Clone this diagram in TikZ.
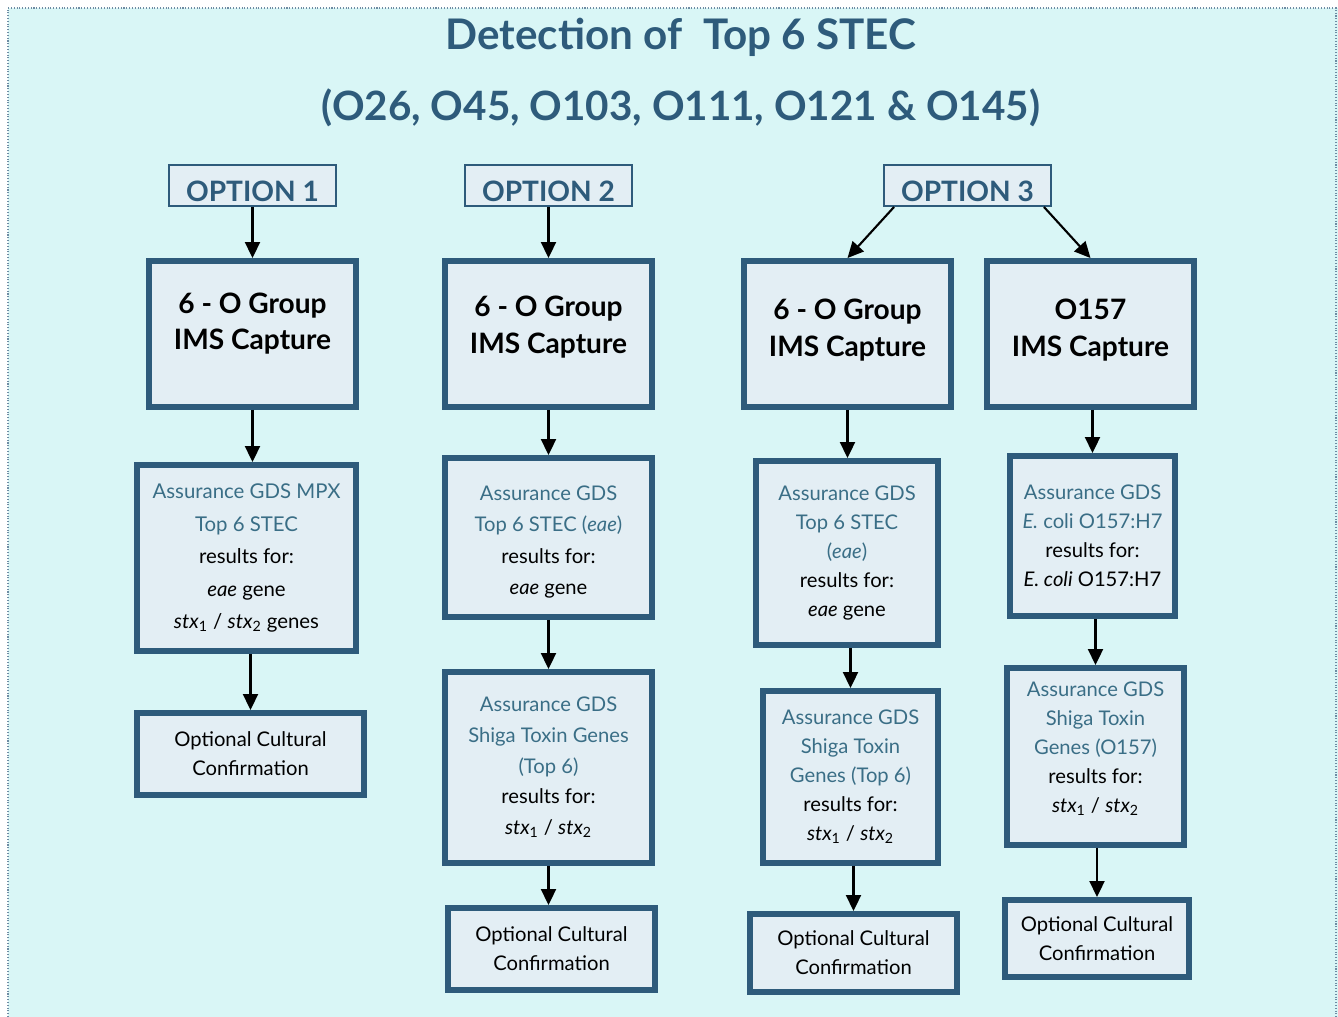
\documentclass[tikz,border=0pt]{standalone}
\usepackage{fontspec}
\setmainfont{Lato}
\usepackage{tikz}
\usetikzlibrary{arrows.meta}

\definecolor{bgcyan}{HTML}{D9F6F6}
\definecolor{boxfill}{HTML}{E3EEF4}
\definecolor{boxline}{HTML}{2E5B7B}
\definecolor{bluetext}{HTML}{3A6E86}

\newcommand{\bt}{\color{bluetext}}
\newcommand{\stxg}[1]{\textit{stx}\textsubscript{#1}}

\tikzset{
  optbox/.style={draw=boxline, line width=1.1pt, fill=boxfill, text=boxline,
    font=\bfseries\fontsize{16}{18}\selectfont, inner sep=0pt,
    text height=18pt, text depth=0pt,
    minimum width=3.34cm, minimum height=0.82cm},
  grpbox/.style={draw=boxline, line width=3.4pt, fill=boxfill, align=center,
    font=\bfseries\fontsize{16}{21}\selectfont,
    minimum width=4.14cm, minimum height=2.92cm},
  resbox/.style={draw=boxline, line width=3.4pt, fill=boxfill, align=center,
    font=\fontsize{11.5}{16.5}\selectfont, inner sep=2pt},
  arr/.style={line width=1.2pt, -{Triangle[length=0.32cm,width=0.3cm]}}
}

\begin{document}
\begin{tikzpicture}[x=0.02cm,y=-0.02cm]
  \useasboundingbox (0,0) rectangle (1338,1017);
  \fill[bgcyan] (8,8) rectangle (1338,1017);
  \draw[boxline!70, densely dotted, line width=0.6pt] (8,1017) -- (8,8) -- (1336,8) -- (1336,1017);

  % title
  \node[text=boxline, font=\bfseries\fontsize{24}{26}\selectfont] (title) at (681,37) {Detection of~ Top 6 STEC};
  \node[text=boxline, font=\bfseries\fontsize{23}{26}\selectfont] (serogr) at (681,108) {(O26, O45, O103, O111, O121 \& O145)};

  % option 1
  \node[optbox] (opt1) at (252.5,185.5) {OPTION 1};
  \node[grpbox] (grp1) at (252.5,334) {6 - O Group\\IMS Capture\\[-6.5pt]\mbox{}};
  \node[resbox, font=\fontsize{11.6}{18.5}\selectfont, minimum width=4.38cm, minimum height=3.72cm] (res1) at (246.5,558)
    {{\bt Assurance GDS MPX}\\{\bt Top 6 STEC}\\results for:\\\textit{eae} gene\\\stxg{1} / \stxg{2} genes};
  \node[resbox, minimum width=4.54cm, minimum height=1.64cm] (cul1) at (250.5,754) {Optional Cultural\\Confirmation};

  % option 2
  \node[optbox] (opt2) at (548.5,185.5) {OPTION 2};
  \node[grpbox] (grp2) at (548.5,334) {6 - O Group\\IMS Capture\\[-10pt]\mbox{}};
  \node[resbox, font=\fontsize{11.5}{18}\selectfont, minimum width=4.14cm, minimum height=3.18cm] (res2) at (548.5,537.5)
    {\mbox{}\\[-4.5pt]{\bt Assurance GDS}\\{\bt Top 6 STEC (\textit{eae})}\\results for:\\\textit{eae} gene};
  \node[resbox, font=\fontsize{11.5}{17.5}\selectfont, minimum width=4.14cm, minimum height=3.82cm] (stx2) at (548.5,767.5)
    {{\bt Assurance GDS}\\{\bt Shiga Toxin Genes}\\{\bt (Top 6)}\\results for:\\\stxg{1} / \stxg{2}};
  \node[resbox, minimum width=4.14cm, minimum height=1.64cm] (cul2) at (551.5,949) {Optional Cultural\\Confirmation};

  % option 3
  \node[optbox] (opt3) at (967.5,185.5) {OPTION 3};
  \node[grpbox] (grp3) at (847.5,334) {6 - O Group\\IMS Capture\\[-14pt]\mbox{}};
  \node[resbox, minimum width=3.64cm, minimum height=3.68cm] (res3) at (847,553)
    {{\bt Assurance GDS}\\{\bt Top 6 STEC}\\{\bt (\textit{eae})}\\results for:\\\textit{eae} gene};
  \node[resbox, minimum width=3.5cm, minimum height=3.44cm] (stx3) at (850.5,777)
    {{\bt Assurance GDS}\\{\bt Shiga Toxin}\\{\bt Genes (Top 6)}\\results for:\\\stxg{1} / \stxg{2}};
  \node[resbox, minimum width=4.14cm, minimum height=1.56cm] (cul3) at (853.5,953) {Optional Cultural\\Confirmation};

  \node[grpbox] (grp4) at (1090.5,334) {O157\\IMS Capture\\[-14pt]\mbox{}};
  \node[resbox, minimum width=3.3cm, minimum height=3.2cm] (res4) at (1092.5,536)
    {{\bt Assurance GDS}\\{\bt \textit{E.} coli O157:H7}\\results for:\\\textit{E. coli} O157:H7};
  \node[resbox, minimum width=3.54cm, minimum height=3.54cm] (stx4) at (1095.5,756.5)
    {{\bt Assurance GDS}\\{\bt Shiga Toxin}\\{\bt Genes (O157)}\\results for:\\\stxg{1} / \stxg{2}\\[-6pt]\mbox{}};
  \node[resbox, minimum width=3.68cm, minimum height=1.54cm] (cul4) at (1097,938.5) {Optional Cultural\\Confirmation};

  % connectors
  \draw[arr] (opt1) -- (grp1);
  \draw[arr] (grp1.south) -- (grp1.south |- res1.north);
  \draw[arr] (res1.south -| cul1) -- (cul1.north);
  \draw[arr] (opt2) -- (grp2);
  \draw[arr] (grp2) -- (res2);
  \draw[arr] (res2) -- (stx2);
  \draw[arr] (stx2.south) -- (stx2.south |- cul2.north);
  \draw[arr] ([xshift=0.22cm]opt3.south west) -- (grp3.north);
  \draw[arr] ([xshift=-0.16cm]opt3.south east) -- (grp4.north);
  \draw[arr] (grp3.south) -- (grp3.south |- res3.north);
  \draw[arr] (res3.south -| stx3) -- (stx3.north);
  \draw[arr] (stx3.south -| cul3) -- (cul3.north);
  \draw[arr] (grp4.south -| res4) -- (res4.north);
  \draw[arr] (res4.south -| stx4) -- (stx4.north);
  \draw[arr] (stx4.south -| cul4) -- (cul4.north);
\end{tikzpicture}
\end{document}
